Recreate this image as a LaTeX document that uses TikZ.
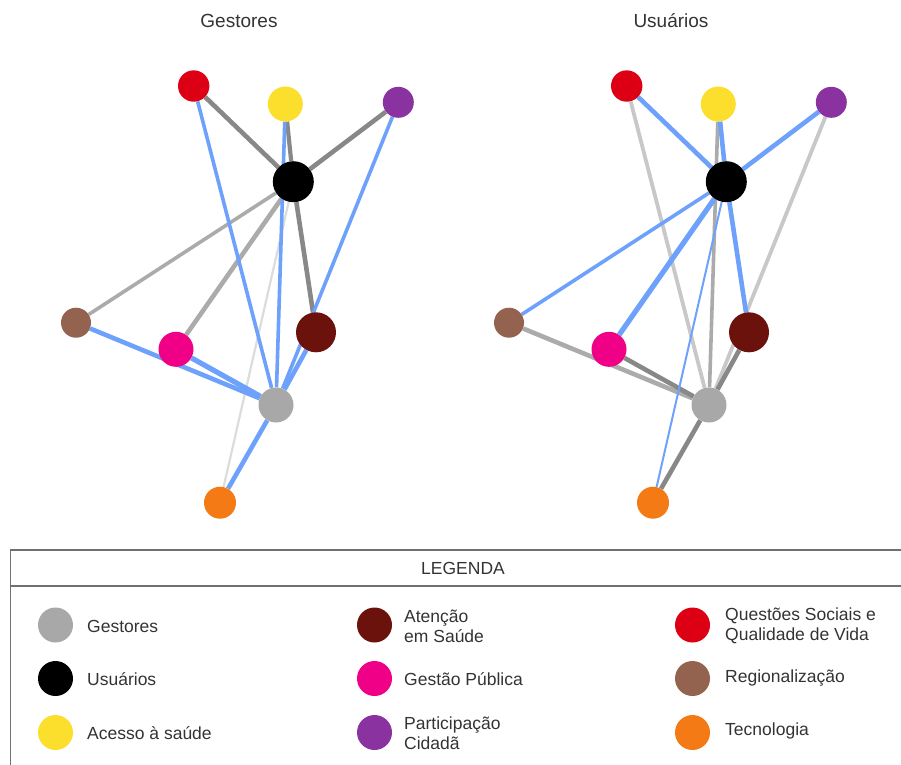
\documentclass[tikz,border=0pt]{standalone}
\usepackage{fontspec}
\setmainfont{Liberation Sans}
\usetikzlibrary{backgrounds}

% topic colours
\definecolor{cGestores}{HTML}{A8A8A8}
\definecolor{cUsuarios}{HTML}{000000}
\definecolor{cAcesso}{HTML}{FCDE2C}
\definecolor{cAtencao}{HTML}{6B120C}
\definecolor{cGestao}{HTML}{EF0086}
\definecolor{cParticip}{HTML}{8A33A0}
\definecolor{cQuestoes}{HTML}{DD0015}
\definecolor{cRegional}{HTML}{94634F}
\definecolor{cTecno}{HTML}{F47A16}
% link colours
\definecolor{lkBlue}{HTML}{6EA1FB}
\definecolor{lkDark}{HTML}{888888}
\definecolor{lkMid}{HTML}{ABABAB}
\definecolor{lkLight}{HTML}{C8C8C8}
\definecolor{lkPale}{HTML}{DCDCDC}
\definecolor{txt}{HTML}{333333}
\definecolor{frame}{HTML}{707070}

\tikzset{
  topic/.style={circle, inner sep=0pt, minimum size=#1},
  bl/.style={draw=lkBlue, line width=#1},
  dk/.style={draw=lkDark, line width=#1},
  md/.style={draw=lkMid, line width=#1},
  lt/.style={draw=lkLight, line width=#1},
  pl/.style={draw=lkPale, line width=#1},
  title/.style={text=txt, font=\fontsize{19}{22}\selectfont},
  legtext/.style={text=txt, anchor=west, align=left, inner sep=0pt,
                  font=\fontsize{17.5}{20}\selectfont},
  legframe/.style={draw=frame, line width=1.3pt},
}

% the nine topic nodes of one network, names prefixed by #1
\newcommand\topicnodes[1]{%
  \node[topic=31.4, fill=cQuestoes] (#1red) at (193.7,86)  {};
  \node[topic=35,   fill=cAcesso]   (#1yel) at (285.3,104) {};
  \node[topic=31,   fill=cParticip] (#1pur) at (398.3,102.3) {};
  \node[topic=41,   fill=cUsuarios] (#1blk) at (293.3,181.7) {};
  \node[topic=30,   fill=cRegional] (#1bro) at (76,322.7)  {};
  \node[topic=35,   fill=cGestao]   (#1pnk) at (176,349.3) {};
  \node[topic=40,   fill=cAtencao]  (#1drd) at (316,332.3) {};
  \node[topic=35,   fill=cGestores] (#1gry) at (276,405)   {};
  \node[topic=32,   fill=cTecno]    (#1org) at (220,502.7) {};
}

\begin{document}
\begin{tikzpicture}[x=1pt, y=-1pt]
\useasboundingbox (0,0) rectangle (901,764);

% ---- titles ----
\node[title] (tG) at (239,21) {Gestores};
\node[title] (tU) at (671,21) {Usuários};

% ---- network: Gestores ----
\topicnodes{g}
\begin{scope}[on background layer]
  \draw[pl=2.2] (gblk) -- (gorg);
  \draw[md=3.6] (gblk) -- (gbro);
  \draw[md=4.6] (gblk) -- (gpnk);
  \draw[dk=4.6] (gred) -- (gblk);
  \draw[dk=4.2] (gyel) -- (gblk);
  \draw[dk=4.6] (gpur) -- (gblk);
  \draw[dk=4.6] (gblk) -- (gdrd);
  \draw[bl=3.6] (gred) -- (ggry);
  \draw[bl=3.6] (gyel) -- (ggry);
  \draw[bl=3.6] (gpur) -- (ggry);
  \draw[bl=4.6] (gbro) -- (ggry);
  \draw[bl=5.2] (gpnk) -- (ggry);
  \draw[bl=4.6] (gdrd) -- (ggry);
  \draw[bl=4.6] (ggry) -- (gorg);
\end{scope}

% ---- network: Usuários ----
\begin{scope}[xshift=433pt]
\topicnodes{u}
\end{scope}
\begin{scope}[on background layer]
  \draw[lt=3.8] (ured) -- (ugry);
  \draw[lt=3.8] (upur) -- (ugry);
  \draw[md=3.6] (uyel) -- (ugry);
  \draw[md=4.6] (ubro) -- (ugry);
  \draw[dk=4.6] (upnk) -- (ugry);
  \draw[dk=4.6] (udrd) -- (ugry);
  \draw[dk=4.6] (ugry) -- (uorg);
  \draw[bl=4.6] (ured) -- (ublk);
  \draw[bl=4.6] (uyel) -- (ublk);
  \draw[bl=4.6] (upur) -- (ublk);
  \draw[bl=3.6] (ublk) -- (ubro);
  \draw[bl=5.2] (ublk) -- (upnk);
  \draw[bl=4.6] (ublk) -- (udrd);
  \draw[bl=2]   (ublk) -- (uorg);
\end{scope}

% ---- legend ----
\draw[legframe] (10.5,800) rectangle (905,550);
\draw[legframe] (10.5,586) -- (905,586);
\node[text=txt, font=\fontsize{17.5}{20}\selectfont] (legT) at (463,568) {LEGENDA};

\node[topic=35, fill=cGestores] (k1) at (55.5,625)   {};
\node[topic=35, fill=cUsuarios] (k2) at (55.5,678.5) {};
\node[topic=35, fill=cAcesso]   (k3) at (55.5,732.5) {};
\node[topic=35, fill=cAtencao]  (k4) at (374.5,625)  {};
\node[topic=35, fill=cGestao]   (k5) at (374.5,678.5){};
\node[topic=35, fill=cParticip] (k6) at (374.5,732.5){};
\node[topic=35, fill=cQuestoes] (k7) at (692.5,625)  {};
\node[topic=35, fill=cRegional] (k8) at (692.5,678.5){};
\node[topic=35, fill=cTecno]    (k9) at (692.5,732.5){};

\node[legtext] (t1) at (87,626)   {Gestores};
\node[legtext] (t2) at (87,679)   {Usuários};
\node[legtext] (t3) at (87,733)   {Acesso à saúde};
\node[legtext] (t4) at (404,626)  {Atenção\\em Saúde};
\node[legtext] (t5) at (404,679)  {Gestão Pública};
\node[legtext] (t6) at (404,733)  {Participação\\Cidadã};
\node[legtext] (t7) at (725,626)  {Questões Sociais e\\Qualidade de Vida};
\node[legtext] (t8) at (725,678)  {Regionalização};
\node[legtext] (t9) at (725,731)  {Tecnologia};
\end{tikzpicture}
\end{document}
